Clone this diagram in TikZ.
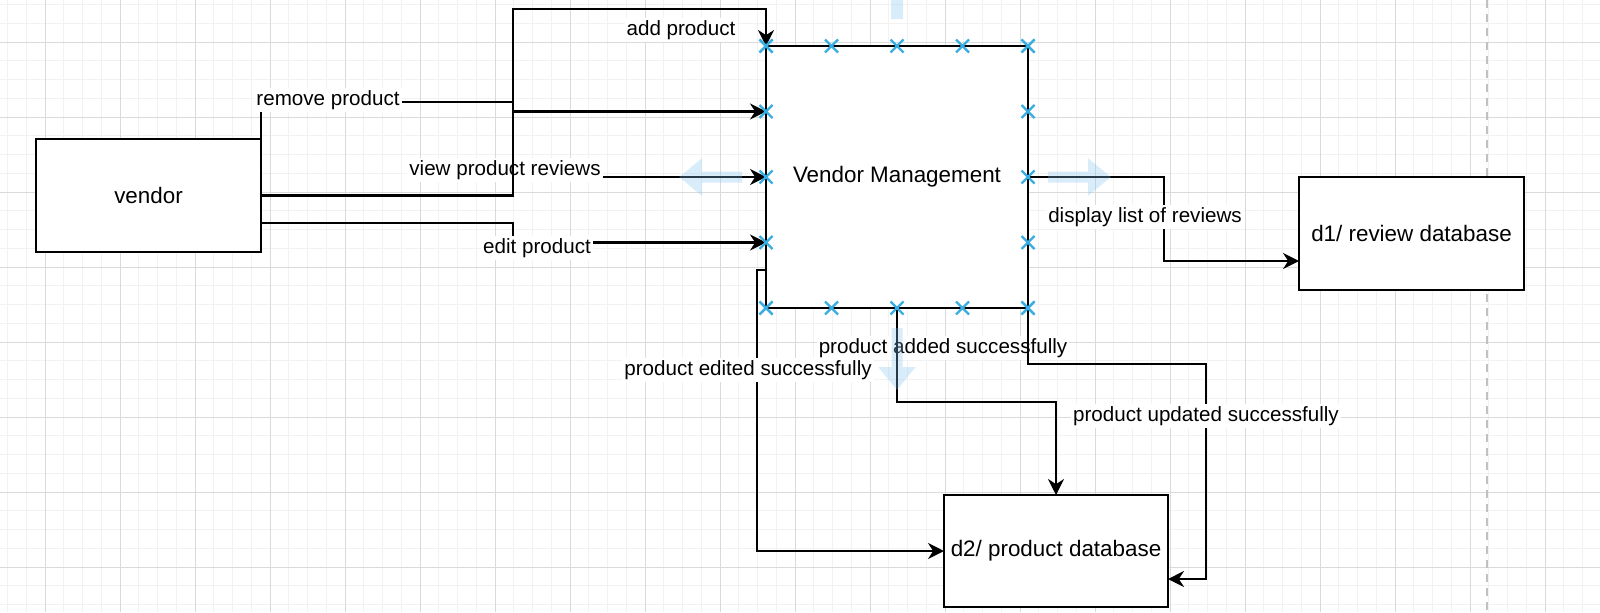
\documentclass[tikz,border=0pt]{standalone}
\usepackage{fontspec}
\setmainfont{Liberation Sans}
\usetikzlibrary{arrows.meta}

\definecolor{gridminor}{RGB}{242,242,242}
\definecolor{gridmajor}{RGB}{218,218,218}
\definecolor{pagebreak}{RGB}{192,192,192}
\definecolor{pointblue}{RGB}{58,174,226}
\definecolor{hoverblue}{RGB}{130,195,240}

\begin{document}
\begin{tikzpicture}[x=0.5pt,y=-0.5pt,>={Stealth[length=8pt,width=8pt]},
    box/.style={rectangle, draw, fill=white, line width=1pt, inner sep=0pt, outer sep=0pt, font=\fontsize{11.2}{13}\selectfont},
    lbl/.style={fill=white, inner sep=1pt, font=\fontsize{10.3}{12}\selectfont},
    flow/.style={->, line width=1.1pt},
    cpoint/.style={draw=pointblue, line width=1.1pt},
    hover/.style={draw=hoverblue, line width=5.5pt, -{Triangle[length=11.5pt,width=18pt]}}]

    \fill[white] (0,0) rectangle (1600,612);
    \useasboundingbox (0,0) rectangle (1600,612);

    % grid
    \foreach \i in {0,...,85} \draw[gridminor, line width=0.5pt] (7.5+18.75*\i,0) -- ++(0,612);
    \foreach \i in {0,...,32} \draw[gridminor, line width=0.5pt] (0,4.5+18.75*\i) -- ++(1600,0);
    \foreach \i in {0,...,21} \draw[gridmajor, line width=0.5pt] (45+75*\i,0) -- ++(0,612);
    \foreach \i in {0,...,7} \draw[gridmajor, line width=0.5pt] (0,42+75*\i) -- ++(1600,0);
    \draw[pagebreak, line width=1pt, dash pattern=on 4pt off 3pt] (1487,0) -- (1487,612);

    \node(vendor)[box, minimum width=112.5pt, minimum height=56.5pt] at (148.5,195.5) {vendor};
    \node(vendor-mgmt)[box, minimum width=131pt, minimum height=131pt] at (897,177) {Vendor Management};
    \node(review-db)[box, minimum width=112.5pt, minimum height=56.5pt] at (1411.5,233.5) {d1/ review database};
    \node(product-db)[box, minimum width=112pt, minimum height=56pt] at (1056,551) {d2/ product database};

    \node(lbl-view)[lbl] at (505,170) {view product reviews};
    \draw[flow] (lbl-view.east |- vendor-mgmt.west) -- (vendor-mgmt.west);

    \draw[flow] (vendor.east) -| (513,9) -| (vendor-mgmt.north west);
    \node(lbl-add)[lbl] at (681,30) {add product};

    \draw[flow] (vendor.north east) |- (513,102) |- ([yshift=32.75pt]vendor-mgmt.west);
    \node(lbl-remove)[lbl] at (328,100) {remove product};

    \draw[flow] ([yshift=-13.75pt]vendor.east) -| (513,242.5) -- ([yshift=-32.75pt]vendor-mgmt.west);
    \node(lbl-edit)[lbl] at (537,248) {edit product};

    \draw[flow] (vendor-mgmt.east) -| (1164,261) -- ([yshift=-13.75pt]review-db.west);
    \node(lbl-display)[lbl] at (1145,217) {display list of reviews};

    \node(lbl-added)[lbl] at (943,348) {product added successfully};
    \draw[flow] (vendor-mgmt.south) |- (1056,402) -- (product-db.north);

    \draw[flow] (vendor-mgmt.south east) |- (1206,364) |- ([yshift=-14pt]product-db.east);
    \node(lbl-updated)[lbl] at (1206,416) {product updated successfully};

    \draw[flow] ([yshift=-46.5pt]vendor-mgmt.west) -| (757,551) -- (product-db.west);
    \node(lbl-edited)[lbl] at (748,370) {product edited successfully};

    % connection points
    \foreach \i in {0,...,4} {
      \draw[cpoint] (766+65.5*\i,46) +(-6.5,-6.5) -- +(6.5,6.5) +(-6.5,6.5) -- +(6.5,-6.5);
      \draw[cpoint] (766+65.5*\i,308) +(-6.5,-6.5) -- +(6.5,6.5) +(-6.5,6.5) -- +(6.5,-6.5);
      \draw[cpoint] (766,46+65.5*\i) +(-6.5,-6.5) -- +(6.5,6.5) +(-6.5,6.5) -- +(6.5,-6.5);
      \draw[cpoint] (1028,46+65.5*\i) +(-6.5,-6.5) -- +(6.5,6.5) +(-6.5,6.5) -- +(6.5,-6.5);
    }

    % hover arrows
    \begin{scope}[transparency group, opacity=0.3]
      \draw[hover] (742,177) -- (679,177);
      \draw[hover] (1048,177) -- (1111,177);
      \draw[hover] (897,328) -- (897,390);
      \fill[hoverblue] (891,0) rectangle (903,19);
    \end{scope}
  \end{tikzpicture}
\end{document}
